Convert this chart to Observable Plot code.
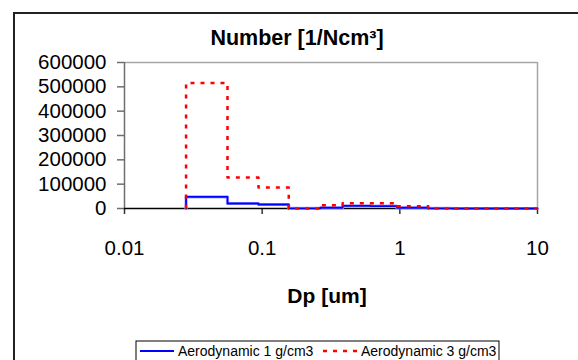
<!DOCTYPE html>
<html>
<head>
<meta charset="utf-8">
<script src="https://cdn.jsdelivr.net/npm/d3@7"></script>
<script src="https://cdn.jsdelivr.net/npm/@observablehq/plot@0.6"></script>
<style>
  html, body { margin: 0; padding: 0; background: #fff; }
  #chart { position: relative; width: 578px; height: 360px; overflow: hidden; }
</style>
</head>
<body>
<div id="chart"></div>
<script>
// ELPI-like bin edges (um)
const binEdges = [0.028, 0.056, 0.094, 0.156, 0.264, 0.384, 0.616, 0.953, 1.61, 2.40, 3.99, 6.57, 10.0];
// Number concentration per bin [1/Ncm3]
const aero1 = [48000, 20500, 16500, 500, 3000, 11000, 10000, 3000, 500, 0, 0, 0];
const aero3 = [516000, 127000, 86000, 500, 13500, 22000, 22000, 9500, 500, 0, 0, 0];
const seriesNames = ["Aerodynamic 1 g/cm3", "Aerodynamic 3 g/cm3"];
const xTicks = [0.01, 0.1, 1, 10];
const xTickLabels = ["0.01", "0.1", "1", "10"];
const yTicks = [0, 100000, 200000, 300000, 400000, 500000, 600000];
const titleText = "Number [1/Ncm³]";
const xLabelText = "Dp [um]";

function stepPoints(vals) {
  const pts = [{x: binEdges[0], y: 0}];
  vals.forEach((v, i) => pts.push({x: binEdges[i], y: v}));
  pts.push({x: binEdges[binEdges.length - 1], y: vals[vals.length - 1]});
  return pts;
}
const s1 = stepPoints(aero1);
const s3 = stepPoints(aero3);

const plot = Plot.plot({
  width: 578,
  height: 360,
  marginLeft: 124,
  marginRight: 41,
  marginTop: 62,
  marginBottom: 152,
  style: {fontFamily: "'Liberation Sans', Arial, sans-serif", fontSize: "20.5px", color: "#000", background: "transparent", overflow: "visible"},
  x: {type: "log", domain: [0.01, 10]},
  y: {domain: [0, 600000]},
  marks: [
    Plot.ruleY([600000], {stroke: "#a6a6a6", strokeWidth: 1.5}),
    Plot.ruleX([10], {stroke: "#a6a6a6", strokeWidth: 1.5}),
    Plot.ruleX([0.01], {stroke: "#6e6e6e", strokeWidth: 1.5}),
    Plot.axisY({ticks: yTicks, tickSize: 7, tickPadding: 11, tickFormat: d => String(d), label: null, stroke: "#6e6e6e", strokeWidth: 1.5}),
    Plot.axisX({ticks: xTicks, tickSize: 6, tickPadding: 26, tickFormat: d => xTickLabels[xTicks.indexOf(d)], label: null, stroke: "#333", strokeWidth: 1.5}),
    Plot.ruleY([0], {stroke: "#000", strokeWidth: 1.5}),
    Plot.line(s1, {x: "x", y: "y", curve: "step-after", stroke: "#a8a8ff", strokeWidth: 3.2}),
    Plot.line(s1, {x: "x", y: "y", curve: "step-after", stroke: "#0000ff", strokeWidth: 1.8}),
    Plot.line(s3, {x: "x", y: "y", curve: "step-after", stroke: "#ff0000", strokeWidth: 2.5, strokeDasharray: "4,6", strokeLinecap: "butt"})
  ]
});
document.getElementById("chart").appendChild(plot);

const svg = d3.select(plot);
const font = "'Liberation Sans', Arial, sans-serif";
// outer chart border
svg.append("rect").attr("x", 14).attr("y", 13).attr("width", 600).attr("height", 400)
  .attr("fill", "none").attr("stroke", "#222").attr("stroke-width", 2);
// title
svg.append("text").attr("x", 297).attr("y", 45).attr("text-anchor", "middle")
  .attr("font-family", font).attr("font-size", 21.5).attr("font-weight", "bold").text(titleText);
// x label
svg.append("text").attr("x", 327).attr("y", 303).attr("text-anchor", "middle")
  .attr("font-family", font).attr("font-size", 21).attr("font-weight", "bold").text(xLabelText);
// legend
const lg = svg.append("g");
lg.append("rect").attr("x", 136).attr("y", 341).attr("width", 363).attr("height", 40)
  .attr("fill", "#fff").attr("stroke", "#000").attr("stroke-width", 1);
lg.append("line").attr("x1", 140).attr("x2", 174).attr("y1", 351).attr("y2", 351)
  .attr("stroke", "#0000ff").attr("stroke-width", 2);
lg.append("text").attr("x", 178).attr("y", 356).attr("text-anchor", "start")
  .attr("font-family", font).attr("font-size", 14).text(seriesNames[0]);
lg.append("line").attr("x1", 323).attr("x2", 358).attr("y1", 351).attr("y2", 351)
  .attr("stroke", "#ff0000").attr("stroke-width", 2.5).attr("stroke-dasharray", "4,6");
lg.append("text").attr("x", 361).attr("y", 356).attr("text-anchor", "start")
  .attr("font-family", font).attr("font-size", 14).text(seriesNames[1]);
</script>
</body>
</html>
